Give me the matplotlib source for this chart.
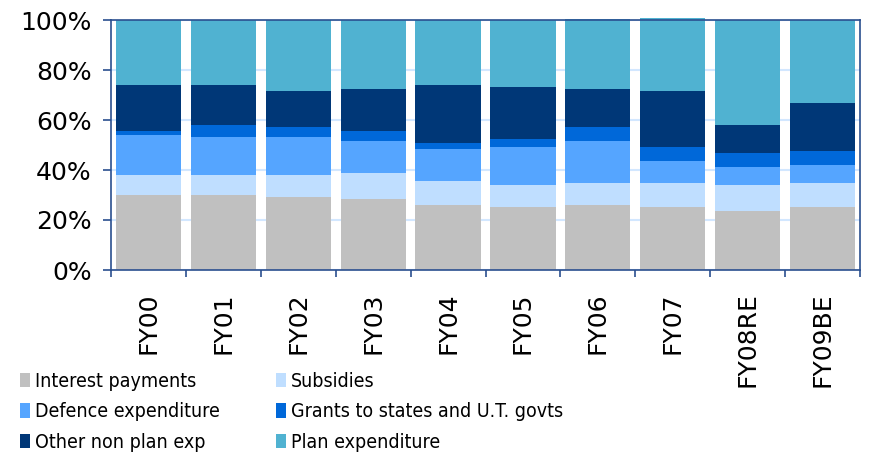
import matplotlib
matplotlib.use("Agg")
import matplotlib.pyplot as plt
from matplotlib import font_manager
from matplotlib.font_manager import FontProperties
from matplotlib.patches import Patch
import numpy as np
import os

categories = ["FY00", "FY01", "FY02", "FY03", "FY04", "FY05", "FY06", "FY07", "FY08RE", "FY09BE"]
interest = [30.0, 30.0, 29.2, 28.4, 26.0, 25.2, 26.0, 25.2, 23.6, 25.2]
subsidies = [8.0, 8.0, 8.8, 10.4, 9.6, 8.8, 8.8, 9.6, 10.4, 9.6]
defence = [16.0, 15.2, 15.2, 12.8, 12.8, 15.2, 16.8, 8.8, 7.2, 7.2]
grants = [1.6, 4.8, 4.0, 4.0, 2.4, 3.2, 5.6, 5.6, 5.6, 5.6]
other_np = [18.4, 16.0, 14.4, 16.8, 23.2, 20.8, 15.2, 22.4, 11.2, 19.2]
plan = [26.0, 26.0, 28.4, 27.6, 26.0, 26.8, 28.0, 29.2, 42.0, 33.2]
y_ticks = [0, 20, 40, 60, 80, 100]
y_labels = ["0%", "20%", "40%", "60%", "80%", "100%"]

series = [
    ("Interest payments", interest, "#C0C0C0"),
    ("Subsidies", subsidies, "#BFDEFF"),
    ("Defence expenditure", defence, "#55A5FF"),
    ("Grants to states and U.T. govts", grants, "#0068D9"),
    ("Other non plan exp", other_np, "#003777"),
    ("Plan expenditure", plan, "#50B2D1"),
]

navy = "#2A4F8F"

# pick a condensed sans for the legend if one is installed
fnames = [f.fname for f in font_manager.fontManager.ttflist]
prefs = [("NotoSans-Condensed.ttf", 15), ("LiberationSansNarrow-Regular.ttf", 15),
         ("DejaVuSansCondensed.ttf", 14)]
legend_fp = None
for p, sz in prefs:
    hits = [f for f in fnames if os.path.basename(f) == p]
    if hits:
        legend_fp = FontProperties(fname=hits[0], size=sz)
        break
if legend_fp is None:
    legend_fp = FontProperties(family="Liberation Sans", size=14)

fig = plt.figure(figsize=(8.85, 4.54), dpi=100)
ax = fig.add_axes([111 / 885, 1 - 270 / 454, 749 / 885, 250 / 454])

x = np.arange(len(categories))
bottom = np.zeros(len(categories))
handles = {}
for name, vals, color in series:
    vals = np.array(vals)
    ax.bar(x, vals, width=0.87, bottom=bottom, color=color, zorder=2, clip_on=False, linewidth=0)
    bottom += vals
    handles[name] = Patch(facecolor=color, edgecolor="none")

ax.set_xlim(-0.5, len(categories) - 0.5)
ax.set_ylim(0, 100)
ax.set_yticks(y_ticks)
ax.set_yticklabels(y_labels, fontsize=18, family="DejaVu Sans")
ax.yaxis.grid(True, color="#D2E7FF", linewidth=1.5, zorder=0)
ax.set_axisbelow(True)
ax.tick_params(axis="y", direction="out", length=6, width=1.2, color=navy, pad=8)

ax.set_xticks(np.arange(len(categories) + 1) - 0.5)
ax.set_xticklabels([])
ax.set_xticks(x, minor=True)
ax.set_xticklabels(categories, minor=True, rotation=90, fontsize=18, family="DejaVu Sans")
ax.tick_params(axis="x", which="major", direction="out", length=5, width=1.2, color=navy)
ax.tick_params(axis="x", which="minor", length=0, pad=16)

for sp in ax.spines.values():
    sp.set_color(navy)
    sp.set_linewidth(1.2)

order = ["Interest payments", "Defence expenditure", "Other non plan exp",
         "Subsidies", "Grants to states and U.T. govts", "Plan expenditure"]


def make_legend(colsp):
    return fig.legend([handles[n] for n in order], order, ncol=2,
                      loc="upper left", bbox_to_anchor=(20 / 885, 1 - 372 / 454),
                      frameon=False, prop=legend_fp,
                      handlelength=0.5, handleheight=0.75, handletextpad=0.25,
                      labelspacing=0.58, columnspacing=colsp,
                      borderaxespad=0, borderpad=0)


leg = make_legend(4.6)
# adjust column spacing so the second column starts at x=276 px
fig.canvas.draw()
r = fig.canvas.get_renderer()
cols = leg._legend_handle_box.get_children()
if len(cols) == 2:
    x2 = cols[1].get_window_extent(r).x0
    fs = legend_fp.get_size_in_points() * 100 / 72
    newsp = max(0.1, 4.6 + (276 - x2) / fs)
    leg.remove()
    leg = make_legend(newsp)

fig.savefig("out.png", dpi=100)
